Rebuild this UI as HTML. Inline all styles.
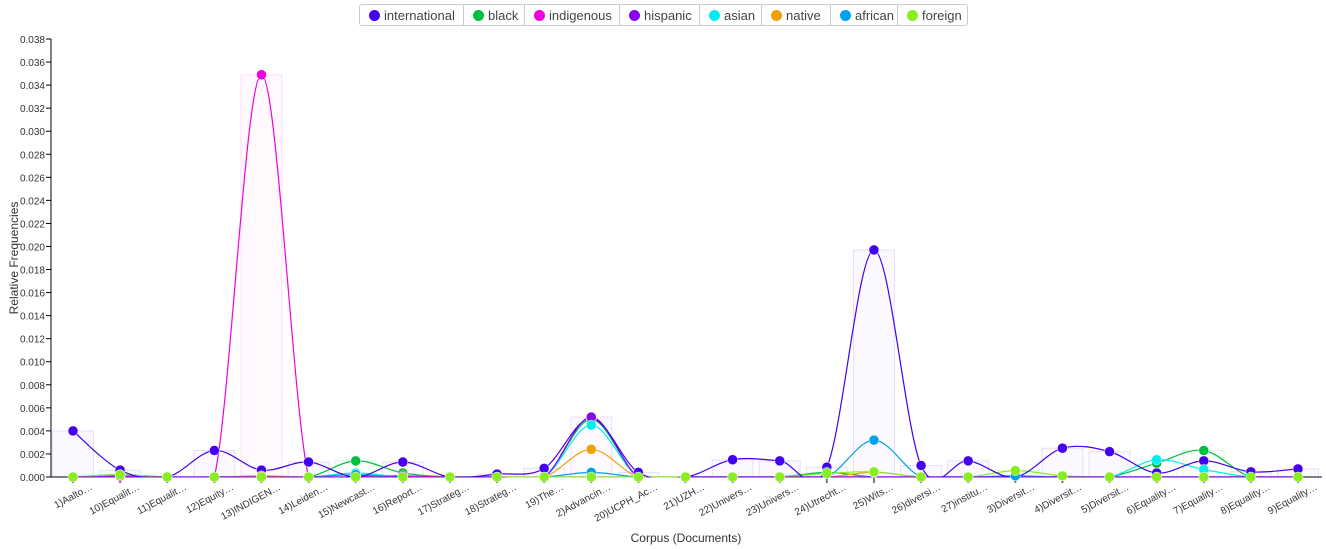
<!DOCTYPE html>
<html><head><meta charset="utf-8"><style>
body{margin:0;background:#fff;font-family:"Liberation Sans",sans-serif;}
#legend{position:absolute;left:359px;top:4px;height:20px;display:flex;border:1px solid #ccc;border-radius:3px;font-size:13px;color:#444;}
.li{display:flex;align-items:center;padding:0 0 0 9px;border-left:1px solid #ccc;height:20px;box-sizing:border-box}
.li:first-child{border-left:none}
.dot{width:11px;height:11px;border-radius:50%;margin-right:4px}
</style></head><body>
<div id="legend"></div>
<svg id="chart" width="1326" height="549" style="position:absolute;left:0;top:0"><defs><clipPath id="clip"><rect x="51" y="0" width="1275" height="477.5"/></clipPath></defs></svg>
<script>
const categories=["1)Aalto…","10)Equalit…","11)Equalit…","12)Equity…","13)INDIGEN…","14)Leiden…","15)Newcast…","16)Report…","17)Strateg…","18)Strateg…","19)The…","2)Advancin…","20)UCPH_Ac…","21)UZH…","22)Univers…","23)Univers…","24)Utrecht…","25)Wits…","26)diversi…","27)institu…","3)Diversit…","4)Diversit…","5)Diversit…","6)Equality…","7)Equality…","8)Equality…","9)Equality…"];
const seriesNames=["international","black","indigenous","hispanic","asian","native","african","foreign"];
const colors=["#4400ee","#00c040","#ee00dd","#8800ee","#00eeee","#f0a000","#00a0f0","#88ee22"];
const international=[0.0040,0.0006,0,0.0023,0.0006,0.0013,0,0.0013,0,0.00025,0.00075,0.0051,0.0004,0,0.0015,0.0014,0.00085,0.0197,0.0010,0.0014,0,0.0025,0.0022,0.00035,0.0014,0.00045,0.0007];
const black=[0,0.0002,0,0,0,0,0.0014,0.00035,0,0,0,0.0050,0,0,0,0,0.0004,0,0,0,0,0,0,0.0012,0.0023,0,0];
const indigenous=[0,0.0001,0,0,0.0349,0,0.0001,0.0001,0,0,0,0,0,0,0,0,0,0,0,0,0,0,0,0,0,0,0];
const hispanic=[0,0,0,0,0,0,0,0,0,0,0,0.0052,0,0,0,0,0,0,0,0,0,0,0,0,0,0,0];
const asian=[0,0.0002,0,0,0,0,0.00035,0,0,0,0,0.0045,0,0,0,0,0,0,0,0,0,0,0,0.0015,0.00065,0,0];
const native=[0,0,0,0,0.0001,0,0,0,0,0,0,0.0024,0,0,0,0,0,0.0004,0,0,0,0,0,0,0,0,0];
const african=[0,0,0,0,0,0,0.0002,0,0,0,0,0.0004,0,0,0,0,0,0.0032,0,0,0.0001,0,0,0,0,0,0];
const foreign=[0,0.0002,0,0,0,0,0,0,0,0,0,0,0,0,0,0,0.0003,0.00045,0,0,0.00055,0.0001,0,0,0,0,0];
const series=[international,black,indigenous,hispanic,asian,native,african,foreign];
const yTicks=[0,0.002,0.004,0.006,0.008,0.010,0.012,0.014,0.016,0.018,0.020,0.022,0.024,0.026,0.028,0.030,0.032,0.034,0.036,0.038];
const NS="http://www.w3.org/2000/svg",svg=document.getElementById('chart');
const x=i=>73+i*(1298-73)/(categories.length-1);
const y=v=>477-v/0.038*438;
function el(t,a,p){const e=document.createElementNS(NS,t);for(const k in a)e.setAttribute(k,a[k]);(p||svg).appendChild(e);return e;}
// legend
const lg=document.getElementById('legend');
const lw=[103,61,95,80,62,69,67,70];
seriesNames.forEach((n,i)=>{const d=document.createElement('div');d.className='li';d.style.width=lw[i]+'px';


d.innerHTML='<span class="dot" style="background:'+colors[i]+'"></span>'+n;lg.appendChild(d);});
// bars (max per category)
categories.forEach((c,i)=>{let m=0,mi=0;series.forEach((s,j)=>{if(s[i]>m){m=s[i];mi=j;}});
if(m>0){const r=el('rect',{x:x(i)-20.5,y:y(m),width:41,height:477-y(m),fill:colors[mi],'fill-opacity':0.025,stroke:colors[mi],'stroke-opacity':0.12});

}});
// axes
const ax=el('line',{x1:51,y1:39,x2:51,y2:477,stroke:'#000'});


yTicks.forEach(t=>{el('line',{x1:46,x2:51,y1:y(t),y2:y(t),stroke:'#000'});
const tx=el('text',{x:45,y:y(t)+4,'text-anchor':'end','font-size':10,fill:'#333'});tx.textContent=t.toFixed(3);

});
const xa=el('line',{x1:51,y1:477,x2:1322,y2:477,stroke:'#000'});


categories.forEach((c,i)=>{el('line',{x1:x(i),x2:x(i),y1:477,y2:483,stroke:'#777','stroke-width':2});
const ex=x(i)+20,ey=489;
const tx=el('text',{x:ex,y:ey,'text-anchor':'end','font-size':10,fill:'#333',transform:`rotate(-28 ${ex} ${ey})`});tx.textContent=c;

});
// curves
const g=el('g',{'clip-path':'url(#clip)'});
function path(pts){let d=`M${pts[0][0]},${pts[0][1]}`;for(let i=0;i<pts.length-1;i++){const p0=pts[i-1]||pts[i],p1=pts[i],p2=pts[i+1],p3=pts[i+2]||p2;
d+=` C${p1[0]+(p2[0]-p0[0])/6},${p1[1]+(p2[1]-p0[1])/6} ${p2[0]-(p3[0]-p1[0])/6},${p2[1]-(p3[1]-p1[1])/6} ${p2[0]},${p2[1]}`;}return d;}
const order=[1,2,4,5,6,7,3,0];
order.forEach(j=>{const s=series[j];const pts=s.map((v,i)=>[x(i),y(v)]);
const p=el('path',{d:path(pts),fill:'none',stroke:colors[j],'stroke-width':1.2},g);

});
[0,1,2,3,4,5,6,7].forEach(j=>{series[j].forEach((v,i)=>{if(v>0||j==7){const c=el('circle',{cx:x(i),cy:y(v),r:5,fill:colors[j],stroke:'#fff','stroke-width':0.5});

}});});
const yt=el('text',{x:18,y:258,'text-anchor':'middle','font-size':12,fill:'#333',transform:'rotate(-90 18 258)'});yt.textContent='Relative Frequencies';


const xt=el('text',{x:686,y:542,'text-anchor':'middle','font-size':12,fill:'#333'});xt.textContent='Corpus (Documents)';


</script></body></html>
